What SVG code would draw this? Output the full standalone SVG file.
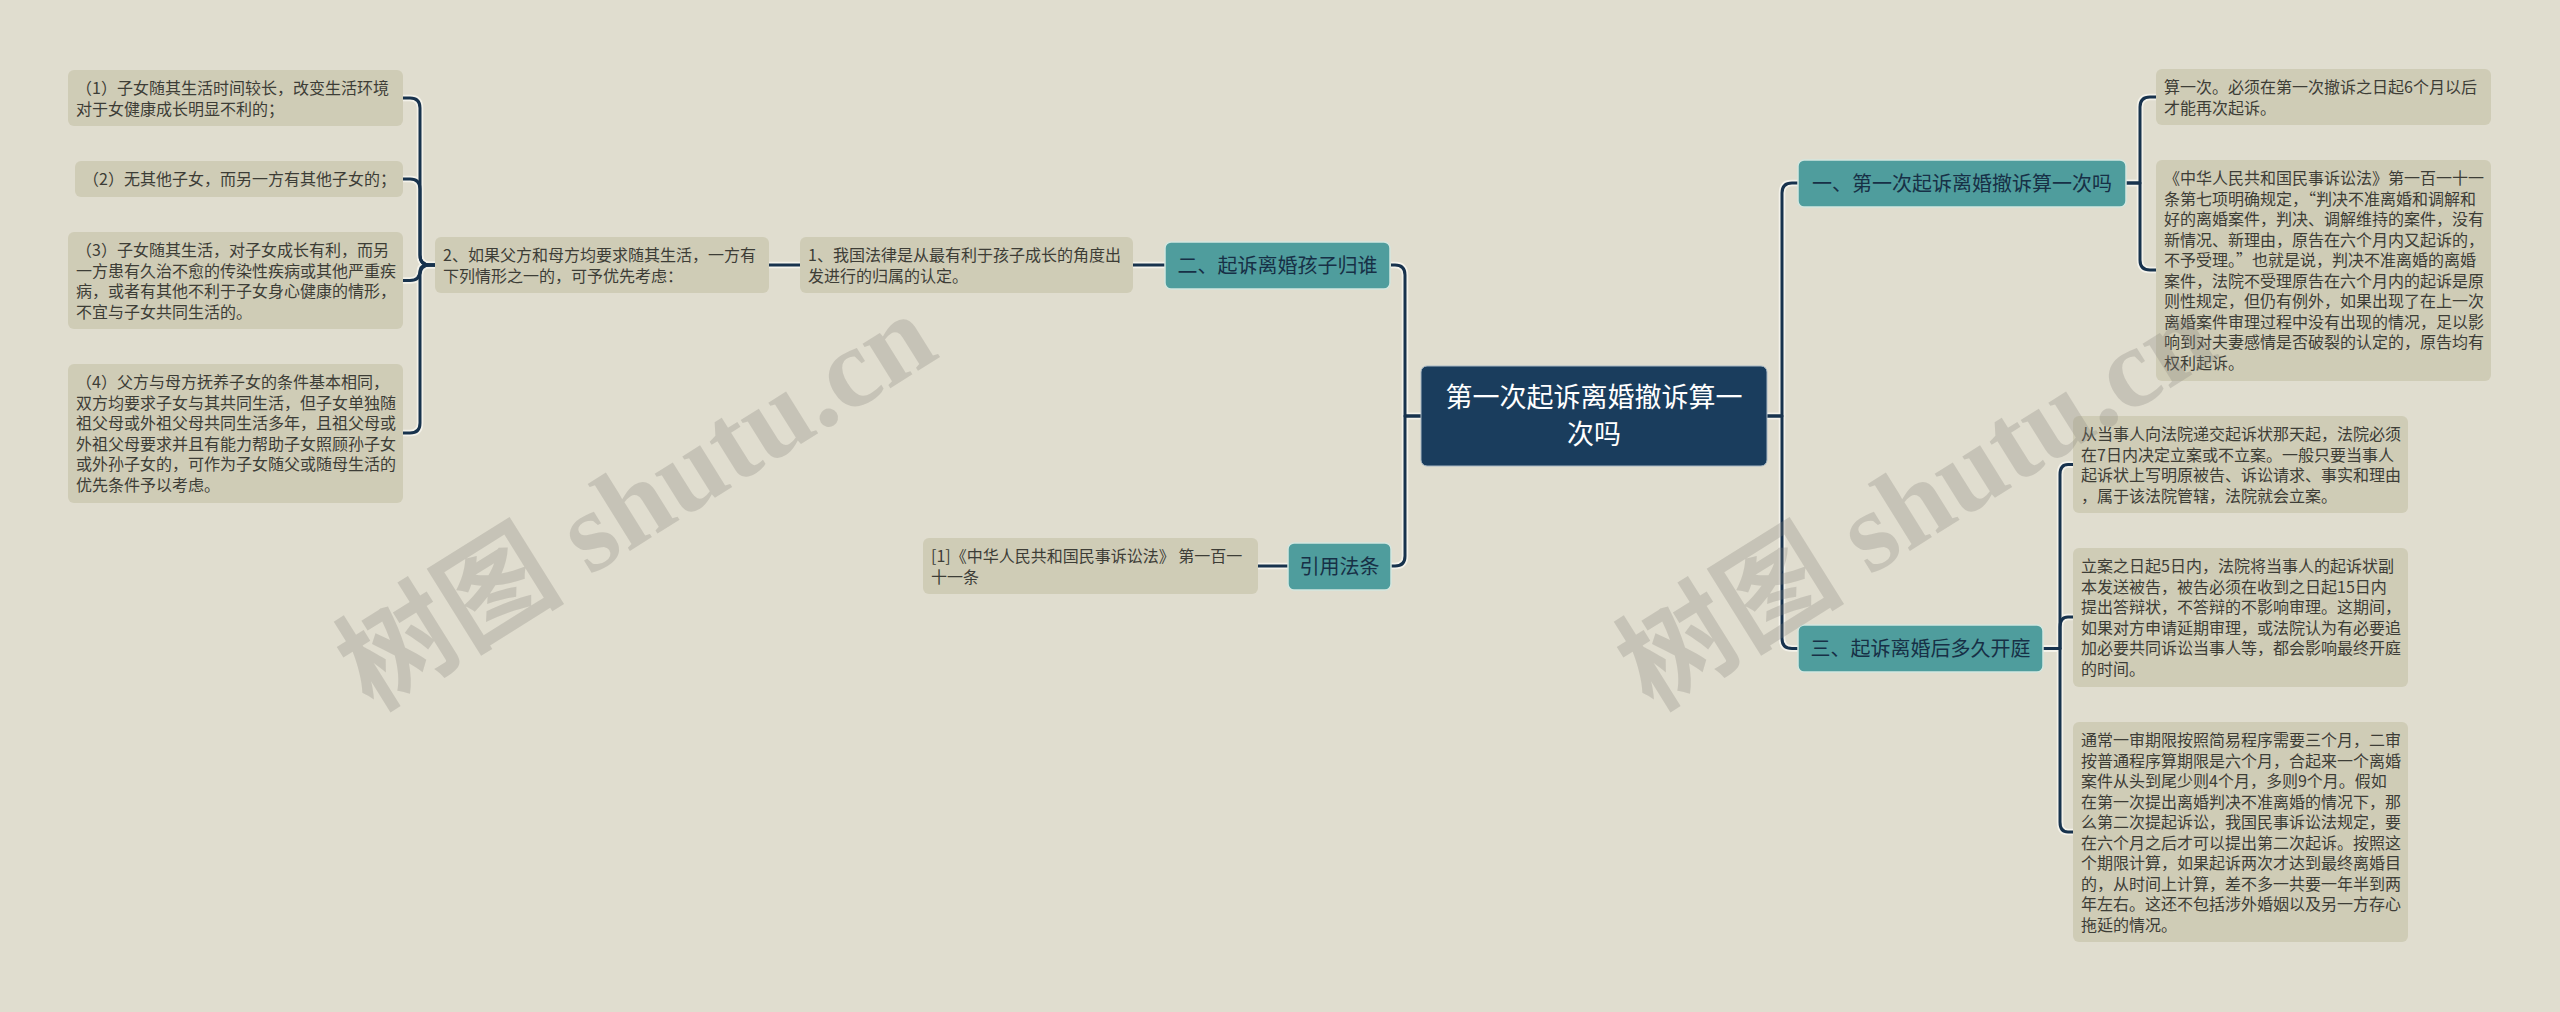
<svg xmlns="http://www.w3.org/2000/svg" width="2560" height="1012" viewBox="0 0 2560 1012">
<style>
  .leaf rect { fill: #cfccb6; }
  .leaf text { font-family: "Noto Sans CJK SC", "Liberation Sans", sans-serif; font-size: 16px; fill: #3d3d36; }
  .branch rect { fill: #4f9d9d; stroke: #d3e6df; stroke-width: 1.5; }
  .branch text { font-family: "Noto Sans CJK SC", "Liberation Sans", sans-serif; font-size: 20px; fill: #173046; text-anchor: middle; }
  .root rect { fill: #1a3d5d; stroke: #a8b8c4; stroke-width: 1; }
  .root text { font-family: "Noto Sans CJK SC", "Liberation Sans", sans-serif; font-size: 27px; fill: #ffffff; text-anchor: middle; }
  .halo path { fill: none; stroke: #f4f2ea; stroke-width: 6.5; stroke-linejoin: round; }
  .line path { fill: none; stroke: #17324d; stroke-width: 3; stroke-linejoin: round; }
  .wm { font-family: "Liberation Serif", "Noto Sans CJK SC", serif; font-size: 114px; font-weight: bold; fill: #85827a; fill-opacity: 0.28; }
</style>
<rect width="2560" height="1012" fill="#e0ddcf"/>

<g id="connectors">
  <g class="halo">
    <path d="M1421,416 H1405 V275 Q1405,265 1395,265 H1391"/>
    <path d="M1421,416 H1405 V556 Q1405,566 1395,566 H1391"/>
    <path d="M1767,416 H1782 V193 Q1782,183 1792,183 H1798"/>
    <path d="M1767,416 H1782 V638.5 Q1782,648.5 1792,648.5 H1798"/>
    <path d="M1165,265 H1133"/>
    <path d="M800,265 H769"/>
    <path d="M1288,566 H1258"/>
    <path d="M435,265 H430 Q420,265 420,255 V108 Q420,98 410,98 H403"/>
    <path d="M435,265 H430 Q420,265 420,255 V189 Q420,179 410,179 H403"/>
    <path d="M435,265 H430 Q420,265 420,270.5 Q420,280.5 410,280.5 H403"/>
    <path d="M435,265 H430 Q420,265 420,275 V423 Q420,433 410,433 H403"/>
    <path d="M2126,183 H2140 V107 Q2140,97 2150,97 H2156"/>
    <path d="M2126,183 H2140 V260 Q2140,270 2150,270 H2156"/>
    <path d="M2043,648.5 H2060 V474.5 Q2060,464.5 2068,464.5 H2073"/>
    <path d="M2043,648.5 H2060 V627 Q2060,617 2068,617 H2073"/>
    <path d="M2043,648.5 H2060 V822 Q2060,832 2068,832 H2073"/>
  </g>
  <g class="line">
    <path d="M1421,416 H1405 V275 Q1405,265 1395,265 H1391"/>
    <path d="M1421,416 H1405 V556 Q1405,566 1395,566 H1391"/>
    <path d="M1767,416 H1782 V193 Q1782,183 1792,183 H1798"/>
    <path d="M1767,416 H1782 V638.5 Q1782,648.5 1792,648.5 H1798"/>
    <path d="M1165,265 H1133"/>
    <path d="M800,265 H769"/>
    <path d="M1288,566 H1258"/>
    <path d="M435,265 H430 Q420,265 420,255 V108 Q420,98 410,98 H403"/>
    <path d="M435,265 H430 Q420,265 420,255 V189 Q420,179 410,179 H403"/>
    <path d="M435,265 H430 Q420,265 420,270.5 Q420,280.5 410,280.5 H403"/>
    <path d="M435,265 H430 Q420,265 420,275 V423 Q420,433 410,433 H403"/>
    <path d="M2126,183 H2140 V107 Q2140,97 2150,97 H2156"/>
    <path d="M2126,183 H2140 V260 Q2140,270 2150,270 H2156"/>
    <path d="M2043,648.5 H2060 V474.5 Q2060,464.5 2068,464.5 H2073"/>
    <path d="M2043,648.5 H2060 V627 Q2060,617 2068,617 H2073"/>
    <path d="M2043,648.5 H2060 V822 Q2060,832 2068,832 H2073"/>
  </g>
</g>

<g id="root" class="root">
  <rect x="1421" y="366" width="346" height="100" rx="6"/>
  <text x="1594" y="407">第一次起诉离婚撤诉算一</text>
  <text x="1594" y="444">次吗</text>
</g>

<g id="b2" class="branch">
  <rect x="1165" y="242" width="225" height="47" rx="6"/>
  <text x="1277.5" y="273">二、起诉离婚孩子归谁</text>
</g>
<g id="bref" class="branch">
  <rect x="1288" y="543" width="103" height="47" rx="6"/>
  <text x="1339.5" y="574">引用法条</text>
</g>
<g id="b1" class="branch">
  <rect x="1798" y="160" width="328" height="47" rx="6"/>
  <text x="1962" y="191">一、第一次起诉离婚撤诉算一次吗</text>
</g>
<g id="b3" class="branch">
  <rect x="1798" y="625" width="245" height="47" rx="6"/>
  <text x="1920.5" y="656">三、起诉离婚后多久开庭</text>
</g>

<g id="m1" class="leaf">
  <rect x="800" y="237" width="333" height="56" rx="6"/>
  <text x="808" y="261">1、我国法律是从最有利于孩子成长的角度出<tspan x="808" dy="20.5">发进行的归属的认定。</tspan></text>
</g>
<g id="m2" class="leaf">
  <rect x="435" y="237" width="334" height="56" rx="6"/>
  <text x="443" y="261">2、如果父方和母方均要求随其生活，一方有<tspan x="443" dy="20.5">下列情形之一的，可予优先考虑：</tspan></text>
</g>
<g id="l1" class="leaf">
  <rect x="68" y="70" width="335" height="56" rx="6"/>
  <text x="76" y="94">（1）子女随其生活时间较长，改变生活环境<tspan x="76" dy="20.5">对于女健康成长明显不利的；</tspan></text>
</g>
<g id="l2" class="leaf">
  <rect x="75" y="161" width="328" height="36" rx="6"/>
  <text x="83" y="185">（2）无其他子女，而另一方有其他子女的；</text>
</g>
<g id="l3" class="leaf">
  <rect x="68" y="232" width="335" height="97" rx="6"/>
  <text x="76" y="256">（3）子女随其生活，对子女成长有利，而另<tspan x="76" dy="20.5">一方患有久治不愈的传染性疾病或其他严重疾</tspan><tspan x="76" dy="20.5">病，或者有其他不利于子女身心健康的情形，</tspan><tspan x="76" dy="20.5">不宜与子女共同生活的。</tspan></text>
</g>
<g id="l4" class="leaf">
  <rect x="68" y="364" width="335" height="139" rx="6"/>
  <text x="76" y="388">（4）父方与母方抚养子女的条件基本相同，<tspan x="76" dy="20.5">双方均要求子女与其共同生活，但子女单独随</tspan><tspan x="76" dy="20.5">祖父母或外祖父母共同生活多年，且祖父母或</tspan><tspan x="76" dy="20.5">外祖父母要求并且有能力帮助子女照顾孙子女</tspan><tspan x="76" dy="20.5">或外孙子女的，可作为子女随父或随母生活的</tspan><tspan x="76" dy="20.5">优先条件予以考虑。</tspan></text>
</g>
<g id="ref1" class="leaf">
  <rect x="923" y="538" width="335" height="56" rx="6"/>
  <text x="931" y="562">[1]《中华人民共和国民事诉讼法》 第一百一<tspan x="931" dy="20.5">十一条</tspan></text>
</g>
<g id="rt1" class="leaf">
  <rect x="2156" y="69" width="335" height="56" rx="6"/>
  <text x="2164" y="93">算一次。必须在第一次撤诉之日起6个月以后<tspan x="2164" dy="20.5">才能再次起诉。</tspan></text>
</g>
<g id="rt2" class="leaf">
  <rect x="2156" y="160" width="335" height="221" rx="6"/>
  <text x="2164" y="184">《中华人民共和国民事诉讼法》第一百一十一<tspan x="2164" dy="20.5">条第七项明确规定，“判决不准离婚和调解和</tspan><tspan x="2164" dy="20.5">好的离婚案件，判决、调解维持的案件，没有</tspan><tspan x="2164" dy="20.5">新情况、新理由，原告在六个月内又起诉的，</tspan><tspan x="2164" dy="20.5">不予受理。”也就是说，判决不准离婚的离婚</tspan><tspan x="2164" dy="20.5">案件，法院不受理原告在六个月内的起诉是原</tspan><tspan x="2164" dy="20.5">则性规定，但仍有例外，如果出现了在上一次</tspan><tspan x="2164" dy="20.5">离婚案件审理过程中没有出现的情况，足以影</tspan><tspan x="2164" dy="20.5">响到对夫妻感情是否破裂的认定的，原告均有</tspan><tspan x="2164" dy="20.5">权利起诉。</tspan></text>
</g>
<g id="rb1" class="leaf">
  <rect x="2073" y="416" width="335" height="97" rx="6"/>
  <text x="2081" y="440">从当事人向法院递交起诉状那天起，法院必须<tspan x="2081" dy="20.5">在7日内决定立案或不立案。一般只要当事人</tspan><tspan x="2081" dy="20.5">起诉状上写明原被告、诉讼请求、事实和理由</tspan><tspan x="2081" dy="20.5">，属于该法院管辖，法院就会立案。</tspan></text>
</g>
<g id="rb2" class="leaf">
  <rect x="2073" y="548" width="335" height="139" rx="6"/>
  <text x="2081" y="572">立案之日起5日内，法院将当事人的起诉状副<tspan x="2081" dy="20.5">本发送被告，被告必须在收到之日起15日内</tspan><tspan x="2081" dy="20.5">提出答辩状，不答辩的不影响审理。这期间，</tspan><tspan x="2081" dy="20.5">如果对方申请延期审理，或法院认为有必要追</tspan><tspan x="2081" dy="20.5">加必要共同诉讼当事人等，都会影响最终开庭</tspan><tspan x="2081" dy="20.5">的时间。</tspan></text>
</g>
<g id="rb3" class="leaf">
  <rect x="2073" y="722" width="335" height="220" rx="6"/>
  <text x="2081" y="746">通常一审期限按照简易程序需要三个月，二审<tspan x="2081" dy="20.5">按普通程序算期限是六个月，合起来一个离婚</tspan><tspan x="2081" dy="20.5">案件从头到尾少则4个月，多则9个月。假如</tspan><tspan x="2081" dy="20.5">在第一次提出离婚判决不准离婚的情况下，那</tspan><tspan x="2081" dy="20.5">么第二次提起诉讼，我国民事诉讼法规定，要</tspan><tspan x="2081" dy="20.5">在六个月之后才可以提出第二次起诉。按照这</tspan><tspan x="2081" dy="20.5">个期限计算，如果起诉两次才达到最终离婚目</tspan><tspan x="2081" dy="20.5">的，从时间上计算，差不多一共要一年半到两</tspan><tspan x="2081" dy="20.5">年左右。这还不包括涉外婚姻以及另一方存心</tspan><tspan x="2081" dy="20.5">拖延的情况。</tspan></text>
</g>

<g id="watermarks">
  <text class="wm" transform="translate(372,712) rotate(-32)">树图 shutu.cn</text>
  <text class="wm" transform="translate(1652,712) rotate(-32)">树图 shutu.cn</text>
</g>
</svg>
